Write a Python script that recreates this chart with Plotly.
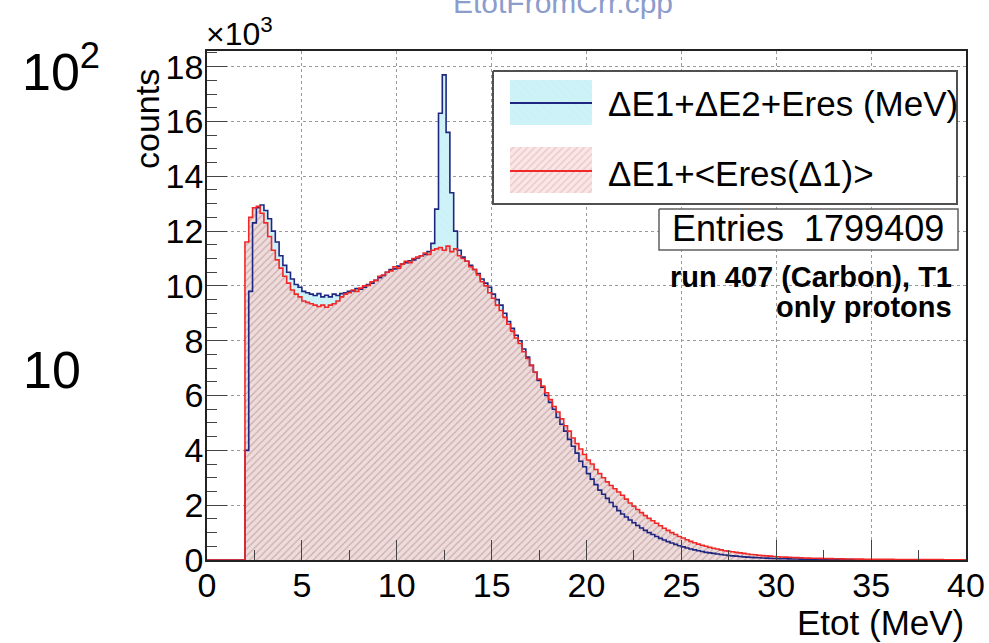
import plotly.graph_objects as go

# ---------------- data (counts in units of 10^3, 0.2 MeV bins from 0 to 40 MeV) -------------
bin_width = 0.2
x_min, x_max = 0.0, 40.0

# ΔE1+ΔE2+Eres (MeV)
blue_counts = [
    0, 0, 0, 0, 0, 0, 0, 0, 0, 0,                                        # 0.0 - 1.8
    4.0, 9.8, 12.3, 12.85, 12.95, 12.75, 12.45, 12.0, 11.6, 11.1,        # 2.0 - 3.8
    10.75, 10.5, 10.25, 10.05, 9.95, 9.8, 9.75, 9.7, 9.65, 9.72,         # 4.0 - 5.8
    9.6, 9.66, 9.6, 9.7, 9.65, 9.72, 9.75, 9.8, 9.82, 9.9,               # 6.0 - 7.8
    9.88, 9.95, 10.05, 10.1, 10.2, 10.3, 10.38, 10.5, 10.6, 10.62,       # 8.0 - 9.8
    10.72, 10.8, 10.85, 10.92, 10.95, 11.02, 11.1, 11.15, 11.25, 11.55,  # 10.0 - 11.8
    12.8, 16.3, 17.7, 15.6, 13.4, 12.0, 11.3, 11.05, 10.9, 10.75,        # 12.0 - 13.8
    10.6, 10.45, 10.25, 10.1, 9.95, 9.7, 9.5, 9.3, 9.0, 8.7,             # 14.0 - 15.8
    8.45, 8.2, 8.0, 7.7, 7.4, 7.1, 6.85, 6.55, 6.3, 6.0,                 # 16.0 - 17.8
    5.75, 5.5, 5.2, 4.95, 4.7, 4.4, 4.15, 3.9, 3.6, 3.4,                 # 18.0 - 19.8
    3.15, 2.95, 2.75, 2.55, 2.4, 2.25, 2.1, 1.95, 1.8, 1.68,             # 20.0 - 21.8
    1.57, 1.46, 1.36, 1.26, 1.17, 1.08, 1.0, 0.93, 0.86, 0.79,           # 22.0 - 23.8
    0.73, 0.67, 0.62, 0.57, 0.52, 0.48, 0.44, 0.40, 0.37, 0.34,          # 24.0 - 25.8
    0.31, 0.28, 0.26, 0.24, 0.22, 0.20, 0.18, 0.165, 0.15, 0.14,         # 26.0 - 27.8
    0.125, 0.115, 0.105, 0.095, 0.088, 0.08, 0.073, 0.067, 0.061, 0.056, # 28.0 - 29.8
    0.051, 0.047, 0.043, 0.040, 0.037, 0.034, 0.031, 0.029, 0.027, 0.025,# 30.0 - 31.8
    0.023, 0.021, 0.020, 0.018, 0.017, 0.016, 0.015, 0.014, 0.013, 0.012,# 32.0 - 33.8
    0.011, 0.010, 0.010, 0.009, 0.008, 0.008, 0.007, 0.007, 0.006, 0.006,# 34.0 - 35.8
    0.005, 0.005, 0.005, 0.004, 0.004, 0.004, 0.003, 0.003, 0.003, 0.003,# 36.0 - 37.8
    0.003, 0.002, 0.002, 0.002, 0.002, 0.002, 0.002, 0.002, 0.001, 0.001,# 38.0 - 39.8
]

# ΔE1+<Eres(Δ1)>
red_counts = [
    0, 0, 0, 0, 0, 0, 0, 0, 0, 0,                                        # 0.0 - 1.8
    11.6, 12.5, 12.85, 12.9, 12.65, 12.3, 11.8, 11.3, 10.95, 10.65,      # 2.0 - 3.8
    10.35, 10.1, 9.85, 9.7, 9.6, 9.45, 9.4, 9.35, 9.3, 9.25,             # 4.0 - 5.8
    9.3, 9.22, 9.3, 9.35, 9.45, 9.6, 9.7, 9.75, 9.85, 9.8,               # 6.0 - 7.8
    9.92, 10.0, 10.02, 10.15, 10.2, 10.35, 10.4, 10.5, 10.55, 10.7,      # 8.0 - 9.8
    10.65, 10.8, 10.9, 10.85, 11.0, 11.05, 11.1, 11.2, 11.15, 11.3,      # 10.0 - 11.8
    11.35, 11.4, 11.3, 11.45, 11.25, 11.35, 11.1, 11.0, 10.9, 10.7,      # 12.0 - 13.8
    10.6, 10.4, 10.15, 10.0, 9.75, 9.55, 9.3, 9.1, 8.85, 8.6,            # 14.0 - 15.8
    8.35, 8.1, 7.9, 7.6, 7.35, 7.1, 6.85, 6.6, 6.35, 6.1,                # 16.0 - 17.8
    5.85, 5.6, 5.4, 5.15, 4.9, 4.7, 4.45, 4.25, 4.05, 3.85,              # 18.0 - 19.8
    3.65, 3.5, 3.3, 3.15, 3.0, 2.85, 2.72, 2.6, 2.48, 2.36,              # 20.0 - 21.8
    2.22, 2.08, 1.96, 1.84, 1.73, 1.62, 1.52, 1.43, 1.34, 1.25,          # 22.0 - 23.8
    1.16, 1.08, 1.0, 0.93, 0.86, 0.8, 0.74, 0.68, 0.63, 0.58,            # 24.0 - 25.8
    0.54, 0.5, 0.46, 0.43, 0.4, 0.37, 0.34, 0.32, 0.3, 0.28,             # 26.0 - 27.8
    0.26, 0.24, 0.22, 0.2, 0.19, 0.17, 0.16, 0.15, 0.14, 0.13,           # 28.0 - 29.8
    0.12, 0.11, 0.105, 0.098, 0.092, 0.086, 0.08, 0.075, 0.07, 0.066,    # 30.0 - 31.8
    0.062, 0.058, 0.055, 0.052, 0.049, 0.046, 0.043, 0.041, 0.039, 0.037,# 32.0 - 33.8
    0.035, 0.033, 0.031, 0.03, 0.028, 0.027, 0.025, 0.024, 0.023, 0.022, # 34.0 - 35.8
    0.021, 0.02, 0.019, 0.018, 0.017, 0.017, 0.016, 0.015, 0.015, 0.014, # 36.0 - 37.8
    0.013, 0.013, 0.012, 0.012, 0.011, 0.011, 0.01, 0.01, 0.01, 0.009,   # 38.0 - 39.8
]

x_ticks = [0, 5, 10, 15, 20, 25, 30, 35, 40]
y_ticks = [0, 2, 4, 6, 8, 10, 12, 14, 16, 18]
y_top = 18.57

legend_labels = ["ΔE1+ΔE2+Eres (MeV)", "ΔE1+&lt;Eres(Δ1)&gt;"]
entries_text = "Entries\u00a0\u00a01799409"
info_lines = ["run 407 (Carbon), T1", "only protons"]
title_text = "EtotFromCrr.cpp"

# ---------------- geometry helpers (pixel -> paper) ----------------
W, H = 989, 643
L, R, T, B = 207, 966, 51, 560


def px(p):
    return (p - L) / (R - L)


def py(p):
    return (B - p) / (B - T)


FONT = "Liberation Sans, Arial, Helvetica, sans-serif"
BLUE_LINE = "#1f2680"
RED_LINE = "#f02828"
CYAN_FILL = "#cdf3f9"
PINK_BG = "#eedcdc"
PINK_FG = "#aa7c7c"

edges = [x_min + i * bin_width for i in range(len(blue_counts) + 1)]
blue_y = blue_counts + [blue_counts[-1]]
red_y = red_counts + [red_counts[-1]]

fig = go.Figure()

# fills
fig.add_trace(go.Scatter(x=edges, y=blue_y, mode="lines", line=dict(width=0, shape="hv"),
                         fill="tozeroy", fillcolor=CYAN_FILL,
                         fillpattern=dict(shape="\\", fgcolor="#bfe6ee", bgcolor=CYAN_FILL,
                                          size=6, solidity=0.1),
                         hoverinfo="skip", showlegend=False))
fig.add_trace(go.Scatter(x=edges, y=red_y, mode="lines", line=dict(width=0, shape="hv"),
                         fill="tozeroy",
                         fillpattern=dict(shape="/", fgcolor=PINK_FG, bgcolor=PINK_BG,
                                          size=5, solidity=0.25),
                         hoverinfo="skip", showlegend=False))
# outlines
fig.add_trace(go.Scatter(x=edges, y=blue_y, mode="lines",
                         line=dict(width=1.6, color=BLUE_LINE, shape="hv"),
                         name=legend_labels[0], showlegend=False))
fig.add_trace(go.Scatter(x=edges, y=red_y, mode="lines",
                         line=dict(width=1.6, color=RED_LINE, shape="hv"),
                         name=legend_labels[1], showlegend=False))


# ---------------- legend / stats boxes drawn on an overlay axis ----------------
def rect(x0, x1, y0, y1):
    return [px(x0), px(x1), px(x1), px(x0), px(x0)], [py(y0), py(y0), py(y1), py(y1), py(y0)]


bx, by = rect(493, 957, 71, 204)
fig.add_trace(go.Scatter(x=bx, y=by, xaxis="x2", yaxis="y2", mode="lines", fill="toself",
                         fillcolor="white", line=dict(color="#505050", width=2),
                         hoverinfo="skip", showlegend=False))
ex, ey = rect(659, 958, 209, 250)
fig.add_trace(go.Scatter(x=ex, y=ey, xaxis="x2", yaxis="y2", mode="lines", fill="toself",
                         fillcolor="white", line=dict(color="#606060", width=1.5),
                         hoverinfo="skip", showlegend=False))
# swatches
sx, sy = rect(510, 592, 80, 125)
fig.add_trace(go.Scatter(x=sx, y=sy, xaxis="x2", yaxis="y2", mode="none", fill="toself",
                         fillpattern=dict(shape="\\", fgcolor="#bfe6ee", bgcolor=CYAN_FILL,
                                          size=6, solidity=0.1),
                         hoverinfo="skip", showlegend=False))
fig.add_trace(go.Scatter(x=[px(510), px(592)], y=[py(103), py(103)], xaxis="x2", yaxis="y2",
                         mode="lines", line=dict(color=BLUE_LINE, width=1.8),
                         hoverinfo="skip", showlegend=False))
sx, sy = rect(510, 592, 147, 193)
fig.add_trace(go.Scatter(x=sx, y=sy, xaxis="x2", yaxis="y2", mode="none", fill="toself",
                         fillpattern=dict(shape="/", fgcolor="#e0a0a0", bgcolor="#f9e6e6",
                                          size=5, solidity=0.25),
                         hoverinfo="skip", showlegend=False))
fig.add_trace(go.Scatter(x=[px(510), px(592)], y=[py(171), py(171)], xaxis="x2", yaxis="y2",
                         mode="lines", line=dict(color=RED_LINE, width=1.8),
                         hoverinfo="skip", showlegend=False))

annotations = [
    dict(text=title_text, x=px(563), y=py(2), xanchor="center", yanchor="middle",
         font=dict(size=30, color="#8c9ccc")),
    dict(text="×10<sup>3</sup>", x=px(204), y=py(32), xanchor="left", yanchor="middle",
         font=dict(size=32, color="black")),
    dict(text="10<sup>2</sup>", x=px(20), y=py(68), xanchor="left", yanchor="middle",
         font=dict(size=52, color="black")),
    dict(text="10", x=px(52), y=py(370), xanchor="center", yanchor="middle",
         font=dict(size=52, color="black")),
    dict(text="counts", x=px(147), y=py(119), xanchor="center", yanchor="middle",
         textangle=-90, font=dict(size=34, color="black")),
    dict(text="Etot (MeV)", x=px(966), y=py(622), xanchor="right", yanchor="middle",
         font=dict(size=35, color="black")),
    dict(text=legend_labels[0], x=px(606), y=py(104), xanchor="left", yanchor="middle",
         font=dict(size=35, color="black")),
    dict(text=legend_labels[1], x=px(606), y=py(173), xanchor="left", yanchor="middle",
         font=dict(size=35, color="black")),
    dict(text=entries_text, x=px(808), y=py(229), xanchor="center", yanchor="middle",
         font=dict(size=36, color="black")),
    dict(text="<b>" + info_lines[0] + "</b>", x=px(954), y=py(277), xanchor="right",
         yanchor="middle", font=dict(size=29, color="black")),
    dict(text="<b>" + info_lines[1] + "</b>", x=px(954), y=py(307), xanchor="right",
         yanchor="middle", font=dict(size=29, color="black")),
]
for a in annotations:
    a.update(xref="paper", yref="paper", showarrow=False)

axis_common = dict(
    automargin=False,
    showline=True, mirror=True, linecolor="#222222", linewidth=1.5,
    ticks="inside", ticklen=20, tickwidth=1.2, tickcolor="#444444",
    showgrid=True, gridcolor="#9a9a9a", gridwidth=1, griddash="dot",
    zeroline=False, tickfont=dict(family=FONT, size=34, color="black"),
)

fig.update_layout(
    width=W, height=H,
    margin=dict(l=L, r=W - R, t=T, b=H - B, autoexpand=False),
    paper_bgcolor="white", plot_bgcolor="white",
    font=dict(family=FONT, color="black"),
    showlegend=False,
    xaxis=dict(range=[x_min, x_max], tickvals=x_ticks, ticktext=[str(v) for v in x_ticks],
               minor=dict(ticks="inside", ticklen=10, dtick=2.5, tick0=0, tickcolor="#444444",
                          showgrid=False),
               ticklabelstandoff=-6, **axis_common),
    yaxis=dict(range=[0, y_top], tickvals=y_ticks, ticktext=[str(v) for v in y_ticks],
               minor=dict(ticks="inside", ticklen=10, dtick=0.5, tick0=0, tickcolor="#444444",
                          showgrid=False),
               ticklabelstandoff=-5, **axis_common),
    xaxis2=dict(overlaying="x", range=[0, 1], visible=False, fixedrange=True, automargin=False),
    yaxis2=dict(overlaying="y", range=[0, 1], visible=False, fixedrange=True, automargin=False),
    annotations=annotations,
)

# remove the browser's default page margin so the figure sits at the window's origin
fig.write_html("out.html", config={"displayModeBar": False},
               post_script="document.body.style.margin='0';document.body.style.overflow='hidden';")
